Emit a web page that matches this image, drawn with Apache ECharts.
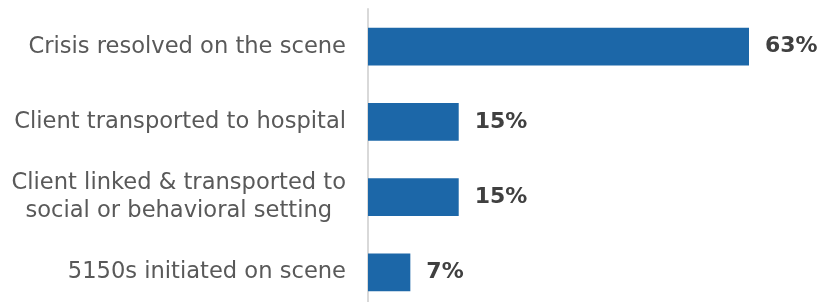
<!DOCTYPE html>
<html><head><meta charset="utf-8">
<script src="https://cdn.jsdelivr.net/npm/echarts@6/dist/echarts.min.js"></script>
<style>html,body{margin:0;padding:0;background:#fff}#c{width:824px;height:302px}</style>
</head><body><div id="c"></div>
<script>
const categories = ["Crisis resolved on the scene", "Client transported to hospital", "Client linked & transported to\nsocial or behavioral setting", "5150s initiated on scene"];
const values = [63, 15, 15, 7];
const FONT = "'DejaVu Sans', Verdana, sans-serif";
const chart = echarts.init(document.getElementById('c'));
chart.setOption({
  animation: false,
  grid: { left: 368, top: 9, right: 75, bottom: -8, outerBoundsMode: 'none', containLabel: false },
  xAxis: { type: 'value', min: 0, max: 63, show: false },
  yAxis: {
    type: 'category', data: categories, inverse: true,
    axisLine: { show: true, lineStyle: { color: '#d9d9d9', width: 2 } },
    axisTick: { show: false },
    axisLabel: {
      color: '#595959', fontFamily: FONT, fontSize: 22.6, margin: 22, lineHeight: 27.5, align: 'right',
      formatter: v => v.split('\n').map(l => '{c|' + l + '}').join('\n'),
      rich: { c: { align: 'center', color: '#595959', fontFamily: FONT, fontSize: 22.6, lineHeight: 27.5 } }
    }
  },
  series: [{
    type: 'bar', data: values, barWidth: '50%',
    itemStyle: { color: '#1c67a8' },
    label: { show: true, position: 'right', distance: 16, formatter: '{c}%', color: '#404040', fontFamily: FONT, fontWeight: 'bold', fontSize: 22 }
  }]
});
</script></body></html>
